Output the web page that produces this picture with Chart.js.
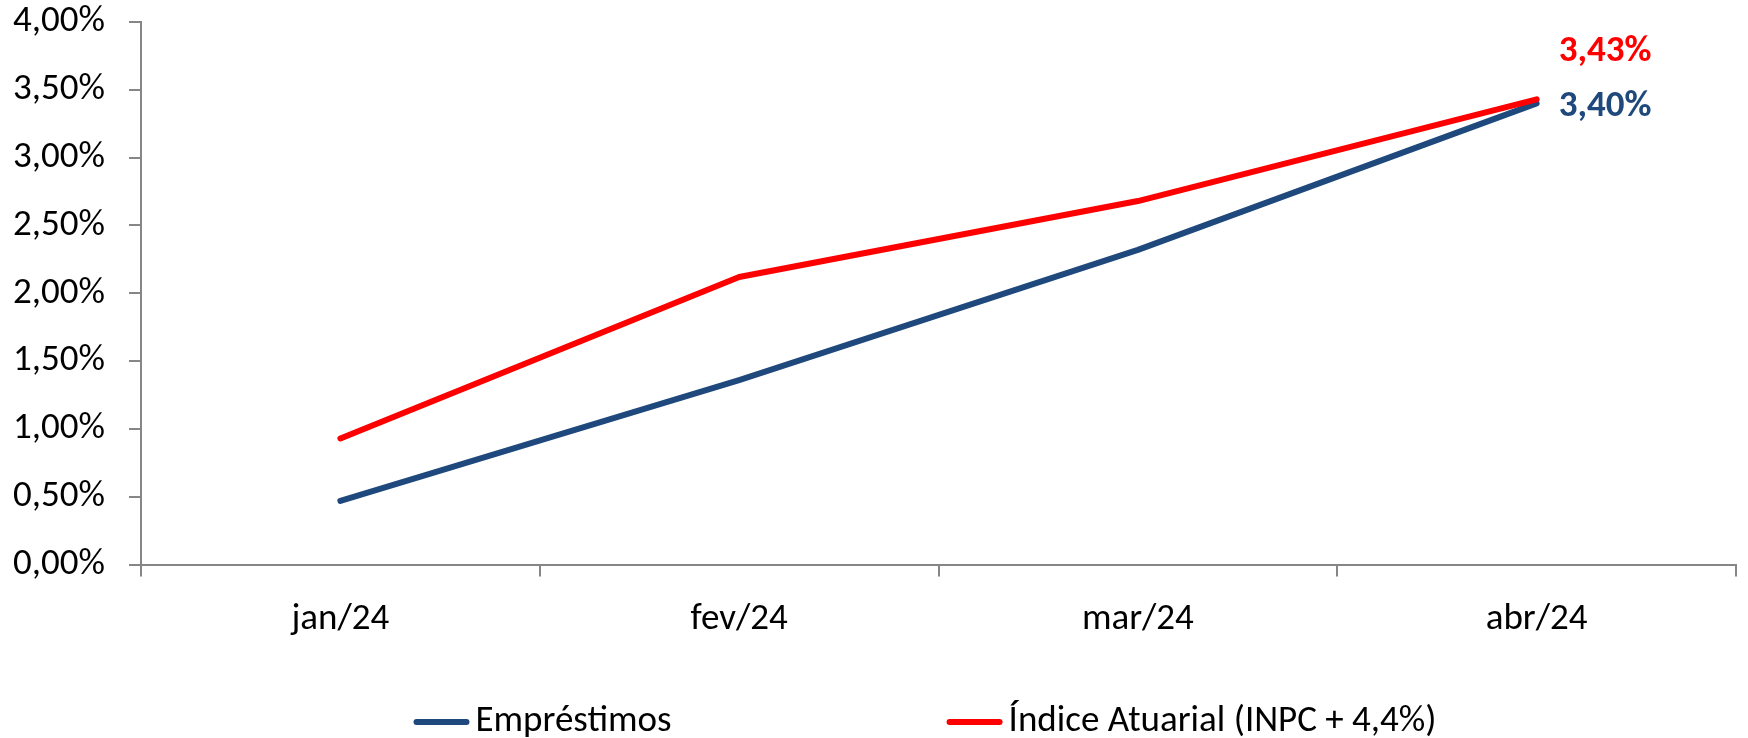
<!DOCTYPE html>
<html>
<head>
<meta charset="utf-8">
<script src="https://cdn.jsdelivr.net/npm/chart.js@4/dist/chart.umd.min.js"></script>
<style>
  html, body { margin: 0; padding: 0; background: #fff; }
  #wrap { width: 1748px; height: 738px; }
</style>
</head>
<body>
<div id="wrap"><canvas id="myChart" width="1748" height="738"></canvas></div>
<script>
// dados do grafico
const meses = ['jan/24', 'fev/24', 'mar/24', 'abr/24'];
const emprestimos = [0.47, 1.36, 2.32, 3.40];
const indiceAtuarial = [0.93, 2.12, 2.68, 3.43];
const nomesSeries = ['Empréstimos', 'Índice Atuarial (INPC + 4,4%)'];
const eixoY = [0, 0.5, 1, 1.5, 2, 2.5, 3, 3.5, 4];

const AZUL = '#1F497D';
const VERMELHO = '#FF0000';
const CINZA = '#868686';
const FONTE = "Carlito, Calibri, Lato, sans-serif";
const TAM = 37;

function formatarPct(v) {
	return v.toFixed(2).replace('.', ',') + '%';
}

// rotulo do ultimo ponto de cada serie
const rotuloFinal = {
	id: 'rotuloFinal',
	afterDatasetsDraw(chart) {
		const ctx = chart.ctx;
		ctx.save();
		ctx.font = 'bold ' + TAM + 'px ' + FONTE;
		ctx.textAlign = 'left';
		ctx.textBaseline = 'middle';
		chart.data.datasets.forEach(function(ds, i) {
			const meta = chart.getDatasetMeta(i);
			const ult = meta.data[meta.data.length - 1];
			ctx.fillStyle = ds.borderColor;
			ctx.fillText(formatarPct(ds.data[ds.data.length - 1]), ult.x + ds.rotuloDx, ult.y + ds.rotuloDy);
		});
		ctx.restore();
	}
};

// legenda no estilo do excel
const legendaExcel = {
	id: 'legendaExcel',
	afterDraw(chart) {
		const ctx = chart.ctx;
		ctx.save();
		ctx.font = TAM + 'px ' + FONTE;
		ctx.textBaseline = 'middle';
		const linha = 56, espaco = 6, vao = 275;
		const larguras = chart.data.datasets.map(ds => linha + espaco + ctx.measureText(ds.label).width);
		const total = larguras.reduce((a, b) => a + b, 0) + vao * (larguras.length - 1);
		let x = 925 - total / 2;
		const y = 722;
		chart.data.datasets.forEach(function(ds, i) {
			ctx.strokeStyle = ds.borderColor;
			ctx.lineWidth = 6;
			ctx.lineCap = 'round';
			ctx.beginPath();
			ctx.moveTo(x + 3, y);
			ctx.lineTo(x + linha - 3, y);
			ctx.stroke();
			ctx.fillStyle = '#000';
			ctx.fillText(ds.label, x + linha + espaco, y);
			x += larguras[i] + vao;
		});
		ctx.restore();
	}
};

document.addEventListener('DOMContentLoaded', function() {
	const ctx = document.getElementById('myChart').getContext('2d');

	new Chart(ctx, {
		type: 'line',
		data: {
			labels: meses,
			datasets: [{
				label: nomesSeries[0],
				data: emprestimos,
				borderColor: AZUL,
				backgroundColor: AZUL,
				borderWidth: 6,
				pointRadius: 0,
				borderCapStyle: 'round',
				borderJoinStyle: 'round',
				tension: 0,
				order: 1,
				rotuloDx: 22,
				rotuloDy: 3
			}, {
				label: nomesSeries[1],
				data: indiceAtuarial,
				borderColor: VERMELHO,
				backgroundColor: VERMELHO,
				borderWidth: 6,
				pointRadius: 0,
				borderCapStyle: 'round',
				borderJoinStyle: 'round',
				tension: 0,
				order: 0,
				rotuloDx: 22,
				rotuloDy: -48
			}]
		},
		options: {
			responsive: false,
			animation: false,
			layout: {
				padding: { left: 0, right: 12, top: 22, bottom: 75 }
			},
			plugins: {
				legend: { display: false },
				tooltip: { enabled: false }
			},
			scales: {
				x: {
					type: 'category',
					offset: true,
					grid: {
						offset: true,
						drawOnChartArea: false,
						drawTicks: true,
						tickLength: 12,
						color: CINZA,
						lineWidth: 2
					},
					border: { color: CINZA, width: 2 },
					ticks: {
						color: '#000',
						padding: 21,
						font: { family: FONTE, size: TAM }
					}
				},
				y: {
					min: eixoY[0],
					max: eixoY[eixoY.length - 1],
					afterBuildTicks: function(scale) {
						scale.ticks = eixoY.map(v => ({ value: v }));
					},
					afterFit: function(scale) {
						scale.width = 141;
						scale.paddingTop = 0;
						scale.paddingBottom = 0;
					},
					grid: {
						drawOnChartArea: false,
						drawTicks: true,
						tickLength: 12,
						color: CINZA,
						lineWidth: 2
					},
					border: { color: CINZA, width: 2 },
					ticks: {
						color: '#000',
						padding: 24,
						font: { family: FONTE, size: TAM },
						callback: function(v) { return formatarPct(v); }
					}
				}
			}
		},
		plugins: [rotuloFinal, legendaExcel]
	});
});
</script>
</body>
</html>
